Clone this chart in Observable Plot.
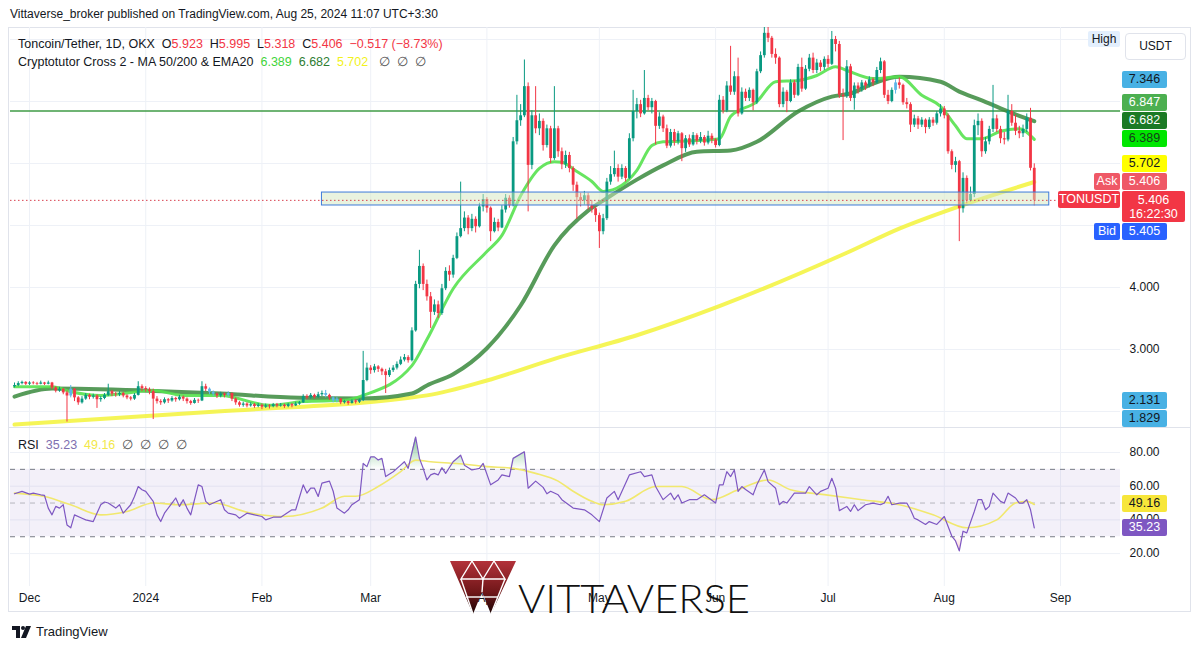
<!DOCTYPE html>
<html><head><meta charset="utf-8">
<script src="https://cdn.jsdelivr.net/npm/d3@7"></script>
<script src="https://cdn.jsdelivr.net/npm/@observablehq/plot@0.6"></script>
<style>
html,body{margin:0;padding:0;background:#fff;}
#root{position:relative;width:1200px;height:651px;overflow:hidden;font-family:"Liberation Sans",Arial,sans-serif;color:#131722;}
.a{position:absolute;white-space:nowrap;}
.tag{position:absolute;left:1122px;width:45px;text-align:center;font-size:12.5px;border-radius:2px;line-height:17px;}
.side{position:absolute;text-align:center;font-size:12.5px;border-radius:2px;line-height:17px;}
.tick{position:absolute;left:1122px;width:45px;text-align:center;font-size:12px;line-height:14px;color:#131722;}
</style></head><body><div id="root"></div>
<script>
// ---------------- DATA ----------------
const startDay = "2023-11-27";
const firstOpen = 2.40;
const closes = [
2.42,2.45,2.47,2.44,2.46,2.45,2.44,2.46,2.44,2.46,
2.38,2.33,2.36,2.30,2.25,2.36,2.22,2.14,2.20,2.26,
2.23,2.25,2.19,2.21,2.26,2.32,2.28,2.27,2.29,2.25,
2.22,2.20,2.26,2.40,2.37,2.35,2.32,2.20,2.16,2.14,
2.19,2.17,2.21,2.19,2.23,2.20,2.16,2.13,2.18,2.17,
2.40,2.36,2.31,2.28,2.25,2.28,2.26,2.29,2.20,2.14,
2.10,2.12,2.09,2.11,2.08,2.10,2.07,2.09,2.08,2.11,
2.09,2.10,2.08,2.11,2.09,2.12,2.14,2.24,2.22,2.26,
2.23,2.27,2.29,2.26,2.22,2.17,2.20,2.14,2.16,2.13,
2.17,2.15,2.18,2.50,2.70,2.66,2.72,2.68,2.64,2.58,
2.66,2.70,2.76,2.83,2.87,2.82,3.30,4.05,4.34,4.05,
3.85,3.60,3.72,3.58,3.98,4.26,4.20,4.47,4.82,4.95,
5.12,4.95,5.10,4.98,5.30,5.42,5.28,4.90,5.05,4.96,
5.25,5.44,5.32,6.35,6.69,6.77,7.24,5.97,6.77,6.56,
6.68,6.29,6.56,6.08,6.56,6.19,5.98,6.13,5.92,5.65,
5.45,5.40,5.48,5.32,5.27,5.16,4.90,5.11,5.70,5.82,
5.92,5.78,5.92,5.76,6.40,6.84,6.95,6.80,7.05,6.90,
7.00,6.60,6.75,6.56,6.28,6.50,6.35,6.48,6.24,6.40,
6.30,6.45,6.36,6.42,6.33,6.44,6.38,6.29,7.02,6.85,
7.25,7.15,7.40,6.80,7.15,7.05,7.18,6.98,7.48,7.74,
8.10,8.02,7.76,7.70,6.95,7.15,7.00,7.30,7.10,7.55,
7.20,7.52,7.70,7.50,7.62,7.55,7.68,7.60,8.00,7.92,
7.10,7.08,7.56,7.05,7.25,7.20,7.30,7.25,7.35,7.30,
7.50,7.64,7.10,7.00,7.18,7.30,7.26,6.98,6.95,6.62,
6.72,6.62,6.70,6.58,6.70,6.65,6.80,6.88,6.77,6.19,
5.97,6.03,5.27,5.76,5.40,5.50,6.61,6.68,6.19,6.35,
6.55,6.72,6.55,6.40,6.38,6.84,6.65,6.52,6.48,6.55,
6.73,5.923,5.406];
const highs = [
2.46,2.48,2.49,2.48,2.48,2.48,2.47,2.49,2.47,2.49,
2.47,2.40,2.39,2.37,2.33,2.42,2.37,2.24,2.24,2.29,
2.28,2.28,2.27,2.24,2.29,2.44,2.34,2.31,2.32,2.31,
2.27,2.24,2.29,2.48,2.43,2.40,2.38,2.36,2.24,2.19,
2.22,2.21,2.24,2.23,2.26,2.25,2.22,2.18,2.21,2.20,
2.48,2.44,2.38,2.33,2.30,2.31,2.30,2.32,2.30,2.22,
2.16,2.15,2.14,2.14,2.13,2.13,2.12,2.12,2.11,2.13,
2.13,2.13,2.12,2.13,2.13,2.15,2.16,2.27,2.27,2.29,
2.28,2.31,2.33,2.34,2.28,2.24,2.23,2.21,2.18,2.17,
2.19,2.19,2.20,2.97,2.78,2.74,2.76,2.74,2.70,2.68,
2.70,2.74,2.80,2.88,2.92,2.90,3.35,4.10,4.60,4.38,
4.12,3.92,3.80,3.78,4.05,4.32,4.35,4.52,4.88,5.70,
5.22,5.16,5.18,5.14,5.36,5.50,5.45,5.30,5.12,5.10,
5.32,5.50,5.48,6.42,7.10,6.95,7.67,7.30,6.85,7.24,
6.80,6.72,6.62,6.60,7.24,6.60,6.25,6.20,6.18,5.95,
5.70,5.52,5.55,5.52,5.40,5.30,5.20,5.18,5.76,5.95,
6.20,5.98,5.98,5.95,6.48,7.18,7.05,7.02,7.50,7.10,
7.05,7.02,6.82,6.78,6.62,6.55,6.55,6.52,6.50,6.45,
6.46,6.50,6.48,6.50,6.45,6.52,6.48,6.40,7.10,7.08,
7.32,7.89,7.48,7.70,7.22,7.20,7.22,7.20,7.52,7.80,
8.24,8.20,8.05,7.85,7.72,7.22,7.18,7.35,7.34,7.60,
7.70,7.58,7.76,7.78,7.68,7.66,7.72,7.74,8.13,8.05,
7.97,7.20,7.66,7.60,7.30,7.30,7.34,7.33,7.40,7.38,
7.55,7.70,7.66,7.18,7.22,7.35,7.38,7.28,7.05,6.98,
6.78,6.76,6.74,6.72,6.74,6.74,6.84,6.95,6.92,6.80,
6.22,6.10,6.05,5.85,5.80,5.62,6.70,6.80,6.72,6.42,
6.60,7.26,6.78,6.60,6.50,7.10,6.95,6.78,6.60,6.62,
6.80,6.89,5.995];
const lows = [
2.38,2.40,2.43,2.42,2.42,2.43,2.42,2.43,2.42,2.43,
2.35,2.30,2.31,2.27,1.83,2.22,2.16,2.10,2.12,2.18,
2.19,2.20,2.05,2.15,2.19,2.24,2.24,2.23,2.24,2.22,
2.19,2.17,2.18,2.25,2.32,2.31,2.27,1.87,2.12,2.10,
2.12,2.13,2.15,2.15,2.17,2.16,2.12,2.10,2.12,2.13,
2.16,2.32,2.27,2.24,2.21,2.22,2.22,2.23,2.16,2.10,
2.07,2.07,2.06,2.07,2.05,2.06,2.03,2.05,2.04,2.06,
2.06,2.07,2.05,2.06,2.06,2.08,2.10,2.13,2.19,2.20,
2.20,2.21,2.24,2.22,2.18,2.14,2.14,2.11,2.12,2.10,
2.12,2.12,2.13,2.16,2.48,2.60,2.62,2.63,2.58,2.29,
2.55,2.63,2.67,2.74,2.80,2.78,2.80,3.28,3.98,3.95,
3.78,3.34,3.55,3.50,3.55,3.95,4.10,4.15,4.45,4.80,
4.90,4.85,4.90,4.88,4.96,5.22,5.20,4.74,4.88,4.90,
4.95,5.20,5.28,5.30,6.30,6.60,6.74,5.22,5.90,6.48,
6.45,6.20,6.25,6.00,6.05,6.10,5.90,5.92,5.85,5.55,
5.10,5.30,5.33,5.25,5.20,5.05,4.63,4.85,5.08,5.65,
5.78,5.70,5.74,5.70,5.74,6.35,6.72,6.74,6.78,6.85,
6.80,6.30,6.55,6.50,6.24,6.25,6.28,6.30,6.03,6.18,
6.26,6.28,6.30,6.32,6.28,6.30,6.32,6.25,6.27,6.80,
6.82,7.10,7.10,6.75,6.78,7.00,7.00,6.85,6.95,7.45,
7.70,7.95,7.70,7.60,6.90,6.90,6.82,6.98,7.05,7.08,
7.15,7.18,7.48,7.45,7.45,7.48,7.50,7.54,7.58,7.80,
7.05,6.37,7.05,7.00,6.86,7.12,7.15,7.18,7.22,7.24,
7.28,7.45,7.05,6.95,6.98,7.12,7.20,6.94,6.88,6.50,
6.58,6.55,6.58,6.48,6.55,6.60,6.62,6.75,6.72,6.15,
5.90,5.85,4.74,5.20,5.35,5.38,5.45,6.45,6.10,6.15,
6.30,6.50,6.50,6.32,6.30,6.35,6.60,6.45,6.40,6.42,
6.50,5.88,5.318];
const blueCandles = [15,52,53,57,83,85,86,235];

// moving averages: [day index, value]
const ema20Points = [[0,2.40],[10,2.40],[15,2.32],[23,2.26],[37,2.34],[45,2.26],[55,2.26],[68,2.10],[77,2.16],[88,2.18],[93,2.26],[106,2.74],[110,3.16],[117,3.98],[126,4.58],[130,4.84],[135,5.48],[140,5.92],[144,6.03],[146,6.02],[150,5.87],[154,5.71],[157,5.55],[162,5.65],[166,5.89],[170,6.29],[173,6.35],[182,6.37],[188,6.40],[191,6.76],[198,7.00],[203,7.32],[209,7.34],[214,7.42],[219,7.56],[222,7.50],[229,7.37],[236,7.40],[242,7.10],[247,6.92],[251,6.61],[254,6.40],[258,6.40],[263,6.52],[268,6.56],[272,6.389]];
const ma50Points = [[0,2.24],[10,2.37],[34,2.34],[55,2.29],[76,2.22],[93,2.21],[106,2.29],[110,2.42],[117,2.60],[126,3.02],[135,3.71],[144,4.68],[153,5.24],[158,5.44],[166,5.74],[173,5.97],[182,6.19],[191,6.21],[198,6.35],[209,6.84],[218,7.08],[223,7.13],[229,7.29],[236,7.40],[247,7.32],[252,7.16],[258,7.02],[263,6.89],[268,6.77],[272,6.682]];
const ma200Points = [[0,1.79],[54,2.00],[110,2.26],[126,2.50],[144,2.85],[166,3.23],[188,3.70],[222,4.56],[236,4.95],[252,5.31],[272,5.702]];

const rsiPoints = [[0,55.5],[2,56.9],[4,55.3],[5,55.9],[7,54.9],[8,54.5],[9,47],[10,43],[11,48],[12,47],[13,49],[14,37],[15,35.3],[16,43],[18,41],[19,40],[21,39],[23,49],[24,50.6],[25,50],[27,47],[28,49],[29,44],[31,49],[32,53.9],[33,59.8],[34,57.9],[35,56.9],[36,53.9],[37,51],[38,43],[39,39],[40,44],[42,50],[43,53],[44,48],[45,52],[46,47],[47,43],[49,60.8],[50,59.8],[51,51],[52,49],[53,50],[55,52],[56,46],[57,44],[59,43],[60,41],[62,44],[64,43],[66,42],[67,40],[69,41.6],[71,41.6],[72,43],[74,46],[75,46],[77,60.8],[78,55.9],[79,58.8],[80,58.8],[81,53.9],[82,61.8],[84,63],[85,57],[86,47],[88,44],[89,46],[90,49],[92,52],[93,73.5],[94,71.6],[95,77.4],[96,77.4],[97,75.5],[98,76.5],[99,65.7],[101,68.6],[103,72.5],[104,74.5],[105,70.6],[107,89.2],[108,76.5],[109,70.6],[110,63.7],[111,66.7],[112,67.6],[113,66.7],[114,71],[115,67.6],[117,74.5],[119,78.4],[120,72.5],[122,69.6],[124,70.6],[125,73.5],[127,60.8],[129,63.7],[130,66.7],[132,65.7],[133,76.5],[136,80.4],[137,58.8],[139,63],[141,59.3],[142,55.5],[143,57],[145,54.9],[146,52],[149,47],[152,46],[154,43],[156,39],[158,53],[160,56.9],[161,52],[164,66.7],[167,68.6],[168,65.7],[170,66.7],[171,59.8],[173,52],[175,55.9],[176,52],[177,54.9],[178,50],[180,52],[182,52],[184,54.9],[187,50],[188,60.8],[189,60.8],[190,68.6],[191,65.7],[192,69.6],[193,56.9],[194,59.8],[195,58],[197,54.9],[198,60.8],[200,69.6],[201,62.7],[203,58.8],[204,49],[205,51],[206,50],[208,55.9],[211,55.9],[212,59.8],[214,54.9],[215,56.9],[217,58.8],[218,64.7],[219,58.8],[220,45.5],[222,48],[223,45],[224,49],[225,45.5],[227,49],[229,50],[231,49],[232,50],[233,54],[234,49],[236,50],[238,50],[239,46],[240,41],[241,40],[243,37.3],[244,39],[246,37.3],[248,42],[250,30.4],[251,27.5],[252,21.6],[253,33.3],[254,32.3],[256,45],[257,52],[258,52],[259,46],[260,48],[261,55.9],[263,51],[264,50],[265,55.9],[267,53],[268,50],[269,50],[270,52],[271,46],[272,35.23]];
const rsiMaPoints = [[0,55.9],[8,53.9],[15,49],[23,43],[30,45],[37,50],[44,49],[53,50],[63,44],[72,42],[82,47],[88,54],[91,54],[97,59.8],[103,68.6],[107,75.5],[111,74.5],[118,73.5],[126,71.6],[133,70.6],[139,67.6],[145,63],[149,57],[154,51],[157,49],[163,51],[171,59.8],[178,59.8],[186,52],[193,57.9],[201,63.7],[207,57.9],[216,55],[226,52],[236,49],[245,43],[254,35.3],[262,40],[267,50],[270,51],[272,49.16]];

const monthStarts = ["2023-12-01","2024-01-01","2024-02-01","2024-03-01","2024-04-01","2024-05-01","2024-06-01","2024-07-01","2024-08-01","2024-09-01"];
const monthLabels = ["Dec","2024","Feb","Mar","Apr","May","Jun","Jul","Aug","Sep"];
const priceTicks = [2,3,4,5,6,7,8];
const rsiTicks = [20,40,60,80];
const rsiBand = [30,70];
const rsiMid = 50;
const levelLine = 6.847;
const zoneDates = ["2024-02-17","2024-08-29"];
const zonePrices = [5.323,5.532];
const legendOHLC = [5.923,5.995,5.318,5.406];
const legendChange = ["−0.517","(−8.73%)"];
const maLast = [6.389,6.682,5.702];   // EMA20, MA50, MA200
const rsiLast = [35.23,49.16];
const quoteAsk = 5.406, quoteLast = 5.406, quoteBid = 5.405;
const countdown = "16:22:30";
const markerPrices = [7.346,2.131,1.829];
const xDomainDays = [-5.07, 291.0];   // relative to Dec 1, 2023
const priceDomain = [1.742, 8.194];
const rsiDomain = [0.47, 94.24];

// ---------------- BUILD ----------------
const DAY = 86400000;
const t0 = +new Date(startDay + "T00:00:00Z");
const dec1 = +new Date(monthStarts[0] + "T00:00:00Z");
const xDomain = [new Date(dec1 + xDomainDays[0]*DAY), new Date(dec1 + xDomainDays[1]*DAY)];
const dayDate = i => new Date(t0 + i*DAY);
const toPts = arr => arr.map(([i,v]) => ({date: dayDate(i), v}));
const monthDates = monthStarts.map(s => new Date(s + "T00:00:00Z"));
const labelMap = new Map(monthDates.map((d,i) => [+d, monthLabels[i]]));

const UP = "#089981", DOWN = "#f23645", BLUE = "#5db6e8";
const candles = closes.map((c,i) => {
  const o = i === 0 ? firstOpen : closes[i-1];
  return {date: dayDate(i), open: o, close: c, high: highs[i], low: lows[i],
    col: blueCandles.includes(i) ? BLUE : (c >= o ? UP : DOWN)};
});
const zone = {start: new Date(zoneDates[0]+"T00:00:00Z"), end: new Date(zoneDates[1]+"T00:00:00Z"), low: zonePrices[0], high: zonePrices[1]};

const root = document.getElementById("root");
function div(css, html, cls) {
  const d = document.createElement("div");
  d.className = cls || "a";
  d.style.cssText = css;
  if (html !== undefined) d.innerHTML = html;
  root.appendChild(d);
  return d;
}

// frame
div("left:8px;top:27px;width:1183px;height:585px;border:1px solid #e0e3eb;box-sizing:border-box;");
div("left:9px;top:427px;width:1181px;height:1px;background:#e0e3eb;");

const mainTop = 27, mainH = 400, rsiTop = 428, rsiH = 184;

const main = Plot.plot({
  width: 1200, height: mainH,
  marginLeft: 10, marginRight: 80, marginTop: 0, marginBottom: 0,
  style: {background: "transparent", overflow: "visible"},
  x: {type: "utc", domain: xDomain, axis: null},
  y: {domain: priceDomain, axis: null},
  color: {type: "identity"},
  marks: [
    Plot.ruleY(priceTicks, {stroke: "#eef1f7"}),
    Plot.ruleX(monthDates, {stroke: "#eef1f7"}),
    Plot.ruleY([levelLine], {stroke: "#3f9b46", strokeWidth: 1.6}),
    Plot.line(toPts(ma200Points), {x: "date", y: "v", stroke: "#f3f33a", strokeWidth: 4, strokeOpacity: 0.85, curve: "monotone-x"}),
    Plot.line(toPts(ma50Points), {x: "date", y: "v", stroke: "#3a8a3d", strokeWidth: 4, strokeOpacity: 0.85, curve: "monotone-x"}),
    Plot.line(toPts(ema20Points), {x: "date", y: "v", stroke: "#57e24f", strokeWidth: 3, strokeOpacity: 0.9, curve: "monotone-x"}),
    Plot.ruleX(candles, {x: "date", y1: "low", y2: "high", stroke: "col", strokeWidth: 1, clip: true}),
    Plot.ruleX(candles, {x: "date", y1: "open", y2: "close", stroke: "col", strokeWidth: 2.8, clip: true}),
    Plot.rect([zone], {x1: "start", x2: "end", y1: "low", y2: "high", fill: "#d4e8c0", fillOpacity: 0.5, stroke: "#3d7bd9", strokeWidth: 1}),
    Plot.ruleY([quoteLast], {stroke: "#d8404f", strokeDasharray: "1.5,2.5", strokeWidth: 1})
  ]
});
main.style.position = "absolute"; main.style.left = "0px"; main.style.top = mainTop + "px";
root.appendChild(main);

const rsiPts = toPts(rsiPoints);
const rsi = Plot.plot({
  width: 1200, height: rsiH,
  marginLeft: 10, marginRight: 80, marginTop: 0, marginBottom: 26,
  style: {background: "transparent", overflow: "visible", fontFamily: "Liberation Sans, Arial, sans-serif"},
  x: {type: "utc", domain: xDomain},
  y: {domain: rsiDomain, axis: null},
  marks: [
    Plot.ruleY(rsiTicks, {stroke: "#eef1f7"}),
    Plot.ruleX(monthDates, {stroke: "#eef1f7"}),
    Plot.rect([rsiBand], {x1: () => xDomain[0], x2: () => xDomain[1], y1: d => d[0], y2: d => d[1], fill: "#7e57c2", fillOpacity: 0.09}),
    Plot.ruleY(rsiBand, {stroke: "#787b86", strokeDasharray: "5,5", strokeWidth: 1}),
    Plot.ruleY([rsiMid], {stroke: "#787b86", strokeOpacity: 0.5, strokeDasharray: "5,5", strokeWidth: 1}),
    Plot.areaY(rsiPts, {x: "date", y1: rsiBand[1], y2: d => Math.max(d.v, rsiBand[1]), fill: "url(#obGrad)"}),
    Plot.areaY(rsiPts, {x: "date", y1: d => Math.min(d.v, rsiBand[0]), y2: rsiBand[0], fill: "url(#osGrad)"}),
    Plot.line(toPts(rsiMaPoints), {x: "date", y: "v", stroke: "#f1e86e", strokeWidth: 1.6, curve: "monotone-x"}),
    Plot.line(rsiPts, {x: "date", y: "v", stroke: "#7e57c2", strokeWidth: 1.2}),
    Plot.axisX(monthDates, {tickFormat: d => labelMap.get(+d), tickSize: 0, tickPadding: 7, fontSize: 12, fill: "#131722", label: null})
  ]
});
rsi.style.position = "absolute"; rsi.style.left = "0px"; rsi.style.top = rsiTop + "px";
root.appendChild(rsi);

// scales
const sy = main.scale("y");
const yPrice = v => mainTop + (sy && sy.apply ? sy.apply(v) : d3.scaleLinear().domain(priceDomain).range([mainH,0])(v));
const ry = rsi.scale("y");
const ryLocal = v => (ry && ry.apply ? ry.apply(v) : d3.scaleLinear().domain(rsiDomain).range([rsiH-26,0])(v));
const yRsi = v => rsiTop + ryLocal(v);

// gradient fills for overbought / oversold zones
const ns = "http://www.w3.org/2000/svg";
const defs = document.createElementNS(ns, "defs");
defs.innerHTML = `<linearGradient id="obGrad" gradientUnits="userSpaceOnUse" x1="0" x2="0" y1="${ryLocal(100)}" y2="${ryLocal(rsiBand[1])}">
  <stop offset="0" stop-color="#2e9e48" stop-opacity="0.9"/><stop offset="1" stop-color="#2e9e48" stop-opacity="0"/></linearGradient>
  <linearGradient id="osGrad" gradientUnits="userSpaceOnUse" x1="0" x2="0" y1="${ryLocal(rsiBand[0])}" y2="${ryLocal(0)}">
  <stop offset="0" stop-color="#f23645" stop-opacity="0"/><stop offset="1" stop-color="#f23645" stop-opacity="0.9"/></linearGradient>`;
rsi.insertBefore(defs, rsi.firstChild);

// ---------------- price axis labels ----------------
const fmt3 = v => v.toFixed(3);
const tags = [
  {key:"m0", value: markerPrices[0], bg:"#48b1e4", fg:"#131722"},
  {key:"lvl", value: levelLine, bg:"#4caf50", fg:"#fff"},
  {key:"ma50", value: maLast[1], bg:"#1b7a25", fg:"#fff"},
  {key:"ema", value: maLast[0], bg:"#00e600", fg:"#15401a"},
  {key:"ma200", value: maLast[2], bg:"#ffff00", fg:"#131722"},
  {key:"ask", value: quoteAsk, bg:"#ef5866", fg:"#fff", side:"Ask", sideW:26},
  {key:"last", value: quoteLast, bg:"#f23645", fg:"#fff", side:"TONUSDT", sideW:62, h:31, w:63, sub: countdown},
  {key:"bid", value: quoteBid, bg:"#2962ff", fg:"#fff", side:"Bid", sideW:26},
  {key:"m1", value: markerPrices[1], bg:"#48b1e4", fg:"#131722"},
  {key:"m2", value: markerPrices[2], bg:"#48b1e4", fg:"#131722"}
];
const TH = 17, GAP = 1;
tags.forEach(t => { t.h = t.h || TH; t.top = yPrice(t.value) - TH/2; });
const anchor = tags.find(t => t.key === "last");
const above = tags.filter(t => t !== anchor && t.value >= anchor.value).sort((a,b) => b.top - a.top);
let lim = anchor.top;
for (const t of above) { t.top = Math.min(t.top, lim - GAP - t.h); lim = t.top; }
const below = tags.filter(t => t !== anchor && t.value < anchor.value).sort((a,b) => a.top - b.top);
lim = anchor.top + anchor.h;
for (const t of below) { t.top = Math.max(t.top, lim + GAP); lim = t.top + t.h; }
let bl = mainTop + mainH;
for (let k = below.length - 1; k >= 0; k--) { const t = below[k]; if (t.top + t.h > bl) t.top = bl - t.h; bl = t.top - GAP; }

const obstacles = tags.map(t => [t.top, t.top + t.h]).concat([[33, 60]]);
priceTicks.forEach(v => {
  const y = yPrice(v);
  if (obstacles.some(([a,b]) => y + 7 > a && y - 7 < b)) return;
  div(`top:${y-7}px;`, fmt3(v), "tick");
});
tags.forEach(t => {
  const inner = t.sub ? `${fmt3(t.value)}<br>${t.sub}` : fmt3(t.value);
  const extra = t.sub ? "line-height:14px;padding-top:2px;box-sizing:border-box;" : "";
  const w = t.w ? `width:${t.w}px;` : "";
  div(`top:${t.top}px;height:${t.h}px;${w}background:${t.bg};color:${t.fg};${extra}`, inner, "tag");
  if (t.side) div(`left:${1120 - t.sideW}px;width:${t.sideW}px;top:${t.top}px;height:17px;background:${t.bg};color:${t.fg};`, t.side, "side");
});
div("left:1088px;top:31px;width:32px;height:16px;line-height:16px;background:#e3effd;font-size:12px;text-align:center;border-radius:2px;", "High");
div("left:1125px;top:33px;width:61px;height:27px;line-height:25px;border:1px solid #e0e3eb;box-sizing:border-box;border-radius:4px;font-size:12px;text-align:center;background:#fff;", "USDT");

// RSI axis
rsiTicks.forEach(v => { const y = yRsi(v); div(`top:${y-7}px;`, v.toFixed(2), "tick"); });
[[rsiLast[1], "#f7e63a", "#131722"], [rsiLast[0], "#7e57c2", "#fff"]].forEach(([v,bg,fg]) => {
  const y = yRsi(v);
  div(`top:${y-8.5}px;height:17px;background:${bg};color:${fg};`, v.toFixed(2), "tag");
});

// ---------------- texts ----------------
div("left:10px;top:7px;font-size:12px;", "Vittaverse_broker published on TradingView.com, Aug 25, 2024 11:07 UTC+3:30");
const red = s => `<span style="color:#f23645">${s}</span>`;
div("left:18px;top:37px;font-size:12.5px;",
  `Toncoin/Tether, 1D, OKX&nbsp; O${red(legendOHLC[0].toFixed(3))}&nbsp; H${red(legendOHLC[1].toFixed(3))}&nbsp; L${red(legendOHLC[2].toFixed(3))}&nbsp; C${red(legendOHLC[3].toFixed(3))}&nbsp; ${red(legendChange[0] + " " + legendChange[1])}`);
div("left:18px;top:54px;font-size:12.5px;",
  `Cryptotutor Cross 2 - MA 50/200 &amp; EMA20&nbsp; <span style="color:#3fd43b">${maLast[0].toFixed(3)}</span>&nbsp; <span style="color:#2e7d32">${maLast[1].toFixed(3)}</span>&nbsp; <span style="color:#f2f21a">${maLast[2].toFixed(3)}</span>&nbsp;&nbsp; <span style="color:#555">∅&nbsp; ∅&nbsp; ∅</span>`);
div("left:18px;top:437px;font-size:12.5px;",
  `RSI&nbsp; <span style="color:#7e6fb0">${rsiLast[0].toFixed(2)}</span>&nbsp; <span style="color:#f2e84a">${rsiLast[1].toFixed(2)}</span>&nbsp; <span style="color:#555">∅&nbsp; ∅&nbsp; ∅&nbsp; ∅</span>`);

// footer
div("left:12px;top:624px;font-size:13px;display:flex;align-items:center;gap:4px;",
  `<svg width="20" height="12" viewBox="0 0 20 12"><path d="M0 0h8v12H4V4H0z" fill="#131722"/><circle cx="11" cy="2" r="2" fill="#131722"/><path d="M14 0h5l-5 12h-5z" fill="#131722"/></svg><span>TradingView</span>`);

// watermark logo
div("left:440px;top:550px;width:320px;height:75px;z-index:5;",
  `<svg width="320" height="75" viewBox="440 550 320 75">
    <defs><linearGradient id="vg" x1="0" y1="0" x2="0" y2="1"><stop offset="0" stop-color="#b3323a"/><stop offset="0.6" stop-color="#6e1618"/><stop offset="1" stop-color="#1a0404"/></linearGradient></defs>
    <polygon points="450,561 516,561 491,614 482,592 473,614" fill="url(#vg)"/>
    <g stroke="#fff" stroke-width="1.4" fill="none">
      <polyline points="472,561 461,579 483,579 472,561"/>
      <polyline points="494,561 483,579 505,579 494,561"/>
      <line x1="461" y1="579" x2="473" y2="614"/>
      <line x1="505" y1="579" x2="491" y2="614"/>
      <line x1="466" y1="597" x2="498" y2="597"/>
      <line x1="483" y1="579" x2="482" y2="592"/>
    </g>
    <text x="518" y="613" font-family="Lato, Inter, sans-serif" font-weight="300" font-size="40" textLength="232" lengthAdjust="spacingAndGlyphs" fill="#111">VITTAVERSE</text>
  </svg>`);
</script></body></html>
